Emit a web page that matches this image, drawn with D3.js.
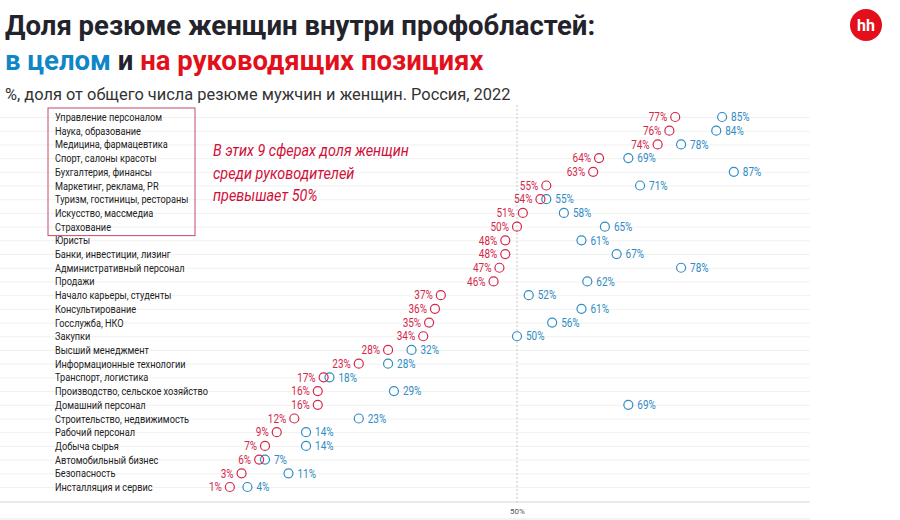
<!DOCTYPE html>
<html>
<head>
<meta charset="utf-8">
<script src="https://cdn.jsdelivr.net/npm/d3@7"></script>
<style>
  body { margin: 0; background: #fff; }
  svg { display: block; }
</style>
</head>
<body>
<div id="visual"></div>
<script>
// profareas, top to bottom
const categories = [
  "Управление персоналом", "Наука, образование", "Медицина, фармацевтика",
  "Спорт, салоны красоты", "Бухгалтерия, финансы", "Маркетинг, реклама, PR",
  "Туризм, гостиницы, рестораны", "Искусство, массмедиа", "Страхование",
  "Юристы", "Банки, инвестиции, лизинг", "Административный персонал",
  "Продажи", "Начало карьеры, студенты", "Консультирование",
  "Госслужба, НКО", "Закупки", "Высший менеджмент",
  "Информационные технологии", "Транспорт, логистика",
  "Производство, сельское хозяйство", "Домашний персонал",
  "Строительство, недвижимость", "Рабочий персонал", "Добыча сырья",
  "Автомобильный бизнес", "Безопасность", "Инсталляция и сервис"
];
// share of women among managers (red)
const leaders = [77, 76, 74, 64, 63, 55, 54, 51, 50, 48, 48, 47, 46, 37, 36, 35, 34, 28, 23, 17, 16, 16, 12, 9, 7, 6, 3, 1];
// share of women overall (blue)
const overall = [85, 84, 78, 69, 87, 71, 55, 58, 65, 61, 67, 78, 62, 52, 61, 56, 50, 32, 28, 18, 29, 69, 23, 14, 14, 7, 11, 4];
const xTicks = [50];

const width = 900, height = 520;
const red = "#d3284a", blue = "#2f8cc4";
const font = "Roboto, sans-serif";
const squeeze = 0.8; // fake a condensed face

const svg = d3.select("#visual").append("svg")
  .attr("width", width).attr("height", height);

const x = d3.scaleLinear().domain([0, 100]).range([224, 810]);
const y = d3.scalePoint().domain(categories).range([117, 487]);

// title
svg.append("text").attr("x", 5).attr("y", 35)
  .style("font-family", font).style("font-weight", "bold")
  .style("font-size", "27.5px").style("fill", "#23232b")
  .text("Доля резюме женщин внутри профобластей:");
const t2 = svg.append("text").attr("x", 5).attr("y", 70)
  .style("font-family", font).style("font-weight", "bold")
  .style("font-size", "27.5px");
t2.append("tspan").style("fill", "#0f86c6").text("в целом");
t2.append("tspan").style("fill", "#23232b").text(" и ");
t2.append("tspan").style("fill", "#e3101b").text("на руководящих позициях");

svg.append("text").attr("x", 5).attr("y", 100)
  .style("font-family", font).style("font-size", "16.4px")
  .style("fill", "#333").text("%, доля от общего числа резюме мужчин и женщин. Россия, 2022");

// logo
svg.append("circle").attr("cx", 866).attr("cy", 25).attr("r", 16).style("fill", "#e3101b");
svg.append("text").attr("x", 866).attr("y", 31).attr("text-anchor", "middle")
  .style("font-family", font).style("font-weight", "bold")
  .style("font-size", "16px").style("fill", "#fff").text("hh");

// row lines
svg.selectAll(".row").data(categories).enter().append("line")
  .attr("x1", 0).attr("x2", x(100))
  .attr("y1", d => y(d) + 0.5).attr("y2", d => y(d) + 0.5)
  .attr("stroke", "#f1f1f1");

// bottom axis
const axis = svg.append("g").attr("transform", "translate(0,502)")
  .call(d3.axisBottom(x).tickValues(xTicks).tickFormat(d => d + "%").tickSize(0).tickPadding(6));
axis.select(".domain").remove();
axis.selectAll("text").style("font-family", font).style("font-size", "8px").style("fill", "#555");
svg.append("line").attr("x1", 0).attr("x2", x(100)).attr("y1", 502).attr("y2", 502)
  .attr("stroke", "#d6d6d6");
svg.append("line").attr("x1", 0).attr("x2", x(100)).attr("y1", 519).attr("y2", 519)
  .attr("stroke", "#e6e6e6");

// 50% dashed line
svg.append("line").attr("x1", x(50)).attr("x2", x(50)).attr("y1", 105).attr("y2", 502)
  .attr("stroke", "#c4c4c4").attr("stroke-dasharray", "2,2");

// category labels
svg.selectAll(".cat").data(categories).enter().append("text")
  .attr("transform", d => `translate(55,${y(d)}) scale(${squeeze},1)`)
  .attr("dy", "0.35em")
  .style("font-family", font).style("font-size", "11.5px").style("fill", "#222")
  .text(d => d);

// box around first 9
svg.append("rect").attr("x", 48).attr("y", 108)
  .attr("width", 147).attr("height", y(categories[8]) - 108 + 9)
  .style("fill", "none").style("stroke", "#c44a66").style("stroke-width", 1);

// annotation
["В этих 9 сферах доля женщин", "среди руководителей", "превышает 50%"].forEach((s, i) => {
  svg.append("text")
    .attr("transform", `translate(213,${156 + i * 22.5}) scale(0.9,1)`)
    .style("font-family", font).style("font-style", "italic")
    .style("font-size", "16px").style("fill", "#d0103a").text(s);
});

// points
const rows = categories.map((c, i) => ({ cat: c, lead: leaders[i], all: overall[i] }));

svg.selectAll(".blue").data(rows).enter().append("circle")
  .attr("cx", d => x(d.all)).attr("cy", d => y(d.cat)).attr("r", 4.5)
  .style("fill", "#fff").style("stroke", blue).style("stroke-width", 1.2);
svg.selectAll(".red").data(rows).enter().append("circle")
  .attr("cx", d => x(d.lead)).attr("cy", d => y(d.cat)).attr("r", 4.5)
  .style("fill", "none").style("stroke", red).style("stroke-width", 1.2);

svg.selectAll(".redlab").data(rows).enter().append("text")
  .attr("transform", d => `translate(${x(d.lead) - 8},${y(d.cat)}) scale(0.83,1)`)
  .attr("dy", "0.35em").attr("text-anchor", "end")
  .style("font-family", font).style("font-size", "12px").style("fill", red)
  .text(d => d.lead + "%");
svg.selectAll(".bluelab").data(rows).enter().append("text")
  .attr("transform", d => `translate(${x(d.all) + 9},${y(d.cat)}) scale(0.83,1)`)
  .attr("dy", "0.35em")
  .style("font-family", font).style("font-size", "12px").style("fill", blue)
  .text(d => d.all + "%");
</script>
</body>
</html>
